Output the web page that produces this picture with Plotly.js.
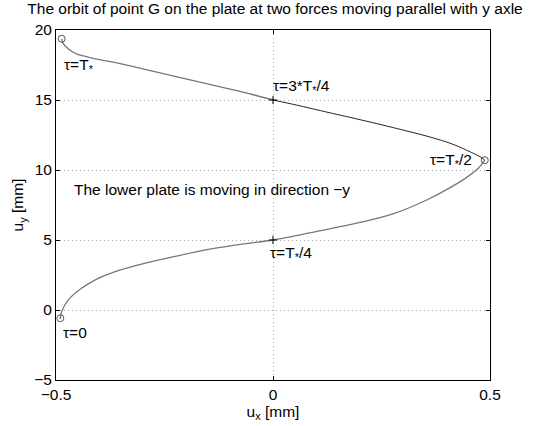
<!DOCTYPE html>
<html>
<head>
<meta charset="utf-8">
<script src="https://cdn.plot.ly/plotly-3.0.1.min.js"></script>
<style>
  html, body { margin: 0; padding: 0; background: #fff; }
  #plot { width: 534px; height: 426px; }
</style>
</head>
<body>
<div id="plot"></div>
<script>
// Orbit of point G, lower branch tau = 0 ... T*/2 (displacements in mm)
const orbitX = [-0.490, -0.487, -0.472, -0.442, -0.404, -0.367, -0.292, -0.217, -0.142, -0.067, 0.000,
                0.091, 0.204, 0.278, 0.353, 0.398, 0.443, 0.473, 0.488];
const orbitY = [-0.59, -0.12, 0.71, 1.53, 2.24, 2.71, 3.37, 3.89, 4.36, 4.72, 5.00,
                5.55, 6.27, 6.88, 7.84, 8.56, 9.40, 10.12, 10.70];
// upper branch, tau = T*/2 ... T*
const upperX = [0.488, 0.477, 0.458, 0.428, 0.398, 0.353, 0.278, 0.204, 0.129, 0.054, 0.000,
                -0.067, -0.141, -0.216, -0.290, -0.365, -0.424, -0.454, -0.472, -0.484, -0.487];
const upperY = [10.70, 10.95, 11.24, 11.67, 12.02, 12.43, 13.02, 13.57, 14.10, 14.64, 15.00,
                15.54, 16.08, 16.62, 17.16, 17.68, 18.05, 18.31, 18.66, 19.06, 19.37];

// characteristic instants
const circleX = [-0.490, 0.488, -0.487];
const circleY = [-0.59, 10.70, 19.37];
const crossX = [0, 0];
const crossY = [5, 15];

const labelText = ['τ=T<sub>*</sub>', 'τ=3*T<sub>*</sub>/4', 'τ=T<sub>*</sub>/2',
                   'The lower plate is moving in direction −y', 'τ=T<sub>*</sub>/4', 'τ=0'];
const labelX = [-0.486, -0.004, 0.357, -0.462, -0.012, -0.488];
const labelY = [17.45, 15.95, 10.7, 8.62, 4.05, -1.6];

const xTicks = [-0.5, 0, 0.5];
const yTicks = [-5, 0, 5, 10, 15, 20];

const font = 'Liberation Sans, Arial, sans-serif';
const fs = 15.5;

const lineStyle = (c, w) => ({ color: c, width: w, shape: 'spline', smoothing: 0.8 });

const traces = [
  { x: orbitX, y: orbitY, mode: 'lines', line: lineStyle('#777', 1.3), hoverinfo: 'skip' },
  { x: upperX.slice(0, 11), y: upperY.slice(0, 11), mode: 'lines', line: lineStyle('#222', 1), hoverinfo: 'skip' },
  { x: upperX.slice(10), y: upperY.slice(10), mode: 'lines', line: lineStyle('#777', 1.3), hoverinfo: 'skip' },
  { x: circleX, y: circleY, mode: 'markers',
    marker: { symbol: ['circle-open-dot', 'circle-open', 'circle-open'], size: 7, color: '#555', line: { color: '#555', width: 1 } } },
  { x: crossX, y: crossY, mode: 'markers',
    marker: { symbol: 'cross-thin-open', size: 6, color: '#000', line: { color: '#000', width: 1 } } }
];

const annotations = labelText.map((t, i) => ({
  x: labelX[i], y: labelY[i], text: t, showarrow: false,
  xanchor: 'left', yanchor: 'middle',
  font: { family: font, size: fs, color: '#000' }
}));

const axisCommon = {
  showline: true, linecolor: '#000', linewidth: 1, mirror: 'ticks',
  ticks: 'inside', ticklen: 4, tickcolor: '#000',
  showgrid: true, gridcolor: '#aaa', griddash: '1px,3px', gridwidth: 1,
  zeroline: false, tickfont: { family: font, size: fs, color: '#000' }
};

const layout = {
  width: 534, height: 426,
  margin: { l: 56, r: 44, t: 30, b: 46 },
  paper_bgcolor: '#fff', plot_bgcolor: '#fff',
  showlegend: false,
  title: { text: 'The orbit of point G on the plate at two forces moving parallel with y axle',
           font: { family: font, size: fs, color: '#000' }, x: 0.515, xanchor: 'center', y: 0.992, yanchor: 'top' },
  xaxis: Object.assign({}, axisCommon, {
    range: [-0.5, 0.5], tickvals: xTicks, ticktext: ['−0.5', '0', '0.5'],
    title: { text: 'u<sub>x</sub> [mm]', font: { family: font, size: fs, color: '#000' }, standoff: 2 }
  }),
  yaxis: Object.assign({}, axisCommon, {
    range: [-5, 20], tickvals: yTicks, ticktext: ['−5', '0', '5', '10', '15', '20'],
    title: { text: 'u<sub>y</sub> [mm]', font: { family: font, size: fs, color: '#000' }, standoff: 6 }
  }),
  annotations: annotations
};

Plotly.newPlot('plot', traces, layout, { staticPlot: true, displayModeBar: false });
</script>
</body>
</html>
